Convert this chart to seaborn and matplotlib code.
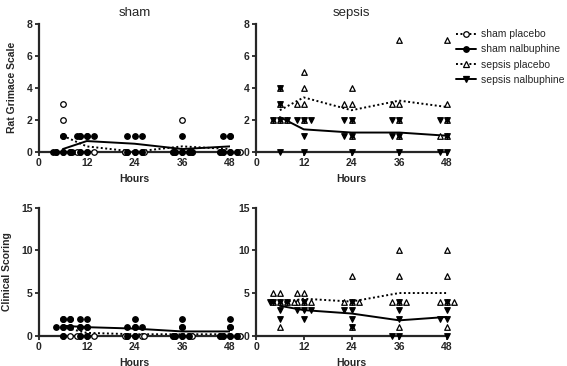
import warnings

import pandas as pd
import matplotlib
matplotlib.use("Agg")
import matplotlib.pyplot as plt
import seaborn as sns
from matplotlib.lines import Line2D

warnings.filterwarnings("ignore")

HOURS = [6, 12, 24, 36, 48]

# one list of animal scores per time point
RGS_SHAM_PLACEBO = [[3, 2, 1, 0, 0, 0], [1, 1, 0, 0, 0, 0], [0, 0, 0, 0, 0, 0],
                    [2, 0, 0, 0, 0, 0], [1, 0, 0, 0, 0, 0]]
RGS_SHAM_NALBUPHINE = [[1, 0, 0, 0, 0, 0], [1, 1, 1, 1, 0, 0], [1, 1, 1, 0, 0, 0],
                       [1, 0, 0, 0, 0, 0], [1, 1, 0, 0, 0, 0]]
RGS_SEPSIS_PLACEBO = [[4, 3, 2, 2, 2], [5, 4, 3, 3, 2], [4, 3, 3, 2, 1],
                      [7, 3, 3, 2, 1], [7, 3, 2, 1, 1]]
RGS_SEPSIS_NALBUPHINE = [[4, 3, 2, 2, 2, 0], [2, 2, 2, 1, 0], [2, 2, 1, 1, 0],
                         [2, 2, 1, 1, 0], [2, 2, 1, 0, 0]]

CS_SHAM_PLACEBO = [[2, 2, 1, 1, 0, 0], [1, 1, 0, 0, 0, 0], [1, 0, 0, 0, 0, 0],
                   [1, 0, 0, 0, 0, 0], [1, 0, 0, 0, 0, 0]]
CS_SHAM_NALBUPHINE = [[2, 2, 1, 1, 1, 0], [2, 2, 1, 1, 0, 0], [2, 1, 1, 1, 0, 0],
                      [2, 1, 0, 0, 0, 0], [2, 1, 0, 0, 0, 0]]
CS_SEPSIS_PLACEBO = [[5, 5, 4, 4, 4, 1], [5, 5, 4, 4, 4, 4], [7, 4, 4, 4, 1],
                     [10, 7, 4, 4, 4, 1], [10, 7, 4, 4, 4, 1]]
CS_SEPSIS_NALBUPHINE = [[4, 4, 4, 4, 3, 2], [4, 3, 3, 3, 2], [4, 3, 3, 2, 1],
                        [4, 3, 2, 0, 0], [4, 3, 2, 2, 0]]

GROUP_LABELS = ["sham placebo", "sham nalbuphine", "sepsis placebo", "sepsis nalbuphine"]

DOTTED = (0, (1, 1.3))
STYLES = {
    "sham placebo":      dict(marker="o", fill="white", ls=DOTTED),
    "sham nalbuphine":   dict(marker="o", fill="black", ls="-"),
    "sepsis placebo":    dict(marker="^", fill="white", ls=DOTTED),
    "sepsis nalbuphine": dict(marker="v", fill="black", ls="-"),
}

sns.set_style("ticks")
plt.rcParams["font.family"] = ["Liberation Sans", "DejaVu Sans"]


def to_long(per_time):
    rows = [(h, v) for h, vals in zip(HOURS, per_time) for v in vals]
    return pd.DataFrame(rows, columns=["hours", "score"])


def draw_panel(ax, groups, ymax, yticks, title=None, ylabel=None):
    for name, per_time in groups:
        st = STYLES[name]
        df = to_long(per_time)
        sns.lineplot(data=df, x="hours", y="score", estimator="mean", errorbar=None,
                     color="black", lw=1.4, linestyle=st["ls"], ax=ax, zorder=2)
        sns.swarmplot(data=df, x="hours", y="score", native_scale=True, orient="x",
                      marker=st["marker"], color=st["fill"], edgecolor="black",
                      linewidth=0.9, size=4, ax=ax, clip_on=False, zorder=3)

    ax.set_xlim(0, 48)
    ax.set_ylim(0, ymax)
    ax.set_xticks([0, 12, 24, 36, 48])
    ax.set_yticks(yticks)
    sns.despine(ax=ax)
    for sp in ("left", "bottom"):
        ax.spines[sp].set_linewidth(1.6)
    ax.tick_params(direction="out", length=3, width=1.3, labelsize=7.5, pad=1.5)
    for lab in ax.get_xticklabels() + ax.get_yticklabels():
        lab.set_fontweight("bold")
    ax.set_xlabel("Hours", fontsize=7.5, fontweight="bold", labelpad=4)
    ax.set_ylabel(ylabel or "", fontsize=7.5, fontweight="bold", labelpad=7)
    if title:
        ax.set_title(title, fontsize=9.5, pad=6)


fig = plt.figure(figsize=(5.67, 3.66), dpi=100)
W, H = 567, 366


def axes_px(left, top, right, bottom):
    return fig.add_axes([left / W, 1 - bottom / H, (right - left) / W, (bottom - top) / H])


ax_tl = axes_px(39, 24, 230, 151.7)
ax_tr = axes_px(256, 24, 447, 151.7)
ax_bl = axes_px(39, 207.7, 230, 335.7)
ax_br = axes_px(256, 207.7, 447, 335.7)

draw_panel(ax_tl, [("sham placebo", RGS_SHAM_PLACEBO), ("sham nalbuphine", RGS_SHAM_NALBUPHINE)],
           8, [0, 2, 4, 6, 8], title="sham", ylabel="Rat Grimace Scale")
draw_panel(ax_tr, [("sepsis placebo", RGS_SEPSIS_PLACEBO), ("sepsis nalbuphine", RGS_SEPSIS_NALBUPHINE)],
           8, [0, 2, 4, 6, 8], title="sepsis")
draw_panel(ax_bl, [("sham placebo", CS_SHAM_PLACEBO), ("sham nalbuphine", CS_SHAM_NALBUPHINE)],
           15, [0, 5, 10, 15], ylabel="Clinical Scoring")
draw_panel(ax_br, [("sepsis placebo", CS_SEPSIS_PLACEBO), ("sepsis nalbuphine", CS_SEPSIS_NALBUPHINE)],
           15, [0, 5, 10, 15])

handles = [Line2D([], [], color="black", lw=1.4, linestyle=STYLES[g]["ls"],
                  marker=STYLES[g]["marker"], markersize=4, markerfacecolor=STYLES[g]["fill"],
                  markeredgecolor="black", markeredgewidth=0.9)
           for g in GROUP_LABELS]
fig.legend(handles, GROUP_LABELS, loc="upper left", bbox_to_anchor=(452 / W, 1 - 25 / H),
           frameon=False, fontsize=7.5, handlelength=1.9, handletextpad=0.5,
           labelspacing=0.5, borderaxespad=0)

fig.savefig("out.png", dpi=100)
